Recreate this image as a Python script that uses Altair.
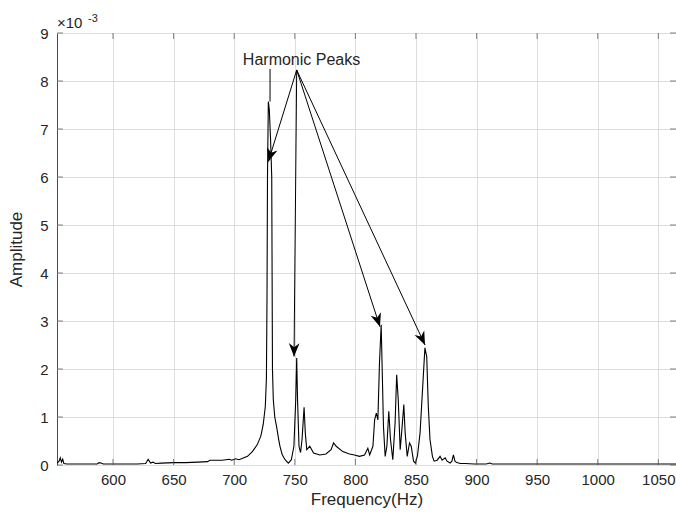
import math
import altair as alt
import pandas as pd

# Spectrum (frequency in Hz, amplitude in units of 1e-3)
freq = [554, 555.5, 556.5, 557.5, 558.5, 559.5, 562, 570, 580, 587, 588.5, 590, 592,
        600, 610, 620, 627, 629, 631, 633, 635, 640, 650, 660, 670, 678, 680, 690,
        696, 698, 701, 704, 707, 711, 715, 719, 722, 724, 725.7, 726.6, 727.1, 727.5,
        728.2, 729.0, 730.0, 731.0, 731.3, 731.6, 732.3, 733.5, 735, 736.6, 737.8,
        739.6, 742, 744.7, 747.2, 749.3, 750.8, 751.6, 752.3, 753.5, 754.8, 756,
        757.7, 758.7, 759.9, 762.4, 765.5, 770.6, 775.7, 780, 782, 784.2, 789.6,
        795.1, 799.3, 803.4, 807.6, 810.3, 811.8, 814.5, 815.9, 817.3, 818.6, 819.9,
        821.3, 822.1, 823.2, 824.6, 826, 827.6, 829, 830.9, 832.8, 834.1, 835.4, 837,
        838.6, 840, 841.1, 842.8, 844.7, 846.1, 848, 849.6, 851.3, 853.4, 855.6,
        857.4, 858.9, 860.2, 861.6, 863.6, 865, 867.5, 869.9, 871.6, 874.1, 875.7,
        878.2, 879.7, 880.9, 882.2, 883.7, 886.7, 890.8, 898, 908, 911, 913, 930,
        960, 1000, 1030, 1064.6]
amp = [0.04, 0.08, 0.15, 0.06, 0.12, 0.03, 0.02, 0.02, 0.02, 0.02, 0.05, 0.04, 0.02,
       0.02, 0.02, 0.02, 0.03, 0.12, 0.04, 0.06, 0.03, 0.04, 0.05, 0.05, 0.06, 0.07, 0.1, 0.1,
       0.12, 0.1, 0.13, 0.11, 0.14, 0.18, 0.28, 0.42, 0.6, 0.85, 1.22, 1.8, 3.5, 6.0,
       7.57, 7.4, 6.8, 6.0, 4.0, 2.0, 1.36, 1.0, 0.8, 0.55, 0.39,
       0.22, 0.11, 0.04, 0.11, 0.39, 1.36, 2.23, 1.36, 0.39, 0.26, 0.53,
       1.2, 0.67, 0.32, 0.39, 0.25, 0.21, 0.23, 0.32, 0.46, 0.39, 0.28,
       0.23, 0.21, 0.18, 0.21, 0.35, 0.21, 0.39, 0.94, 1.08, 0.94, 2.12,
       2.92, 2.05, 0.8, 0.18, 0.39, 1.12, 0.53, 0.11, 0.88, 1.88, 1.36, 0.32,
       0.8, 1.26, 0.67, 0.18, 0.46, 0.39, 0.08, 0.04, 0.2, 0.67, 1.64,
       2.44, 2.26, 1.22, 0.53, 0.18, 0.08, 0.1, 0.18, 0.1, 0.15, 0.08,
       0.04, 0.08, 0.21, 0.08, 0.05, 0.03, 0.03, 0.02, 0.02, 0.04, 0.02, 0.02,
       0.02, 0.02, 0.02, 0.02]

x_ticks = [600, 650, 700, 750, 800, 850, 900, 950, 1000, 1050]
y_ticks = [0, 1, 2, 3, 4, 5, 6, 7, 8, 9]

# Annotation: "Harmonic Peaks" with arrows
label_text = "Harmonic Peaks"
label_f, label_a = 755.6, 8.33
arrow_from_f, arrow_from_a = 751.6, 8.23
arrow_tip_f = [728.2, 749.4, 820.3, 857.5]
arrow_tip_a = [6.32, 2.26, 2.88, 2.5]
guide_f, guide_a_top, guide_a_bottom = 729.6, 8.25, 7.57

X_DOMAIN = [553.8, 1064.6]
Y_DOMAIN = [0, 9]
W, H = 619, 432

kx = W / (X_DOMAIN[1] - X_DOMAIN[0])
ky = H / (Y_DOMAIN[1] - Y_DOMAIN[0])
angles = []
for tf, ta in zip(arrow_tip_f, arrow_tip_a):
    dx = (tf - arrow_from_f) * kx
    dy = (arrow_from_a - ta) * ky
    angles.append(math.degrees(math.atan2(-dx, dy)) % 360)

spec = pd.DataFrame({"f": freq, "a": amp})
arrows = pd.DataFrame({
    "f": arrow_tip_f, "a": arrow_tip_a,
    "f0": [arrow_from_f] * len(arrow_tip_f), "a0": [arrow_from_a] * len(arrow_tip_f),
    "angle": angles,
})
guide = pd.DataFrame({"f": [guide_f], "a": [guide_a_top], "f1": [guide_f], "a1": [guide_a_bottom]})
label_df = pd.DataFrame({"f": [label_f], "a": [label_a], "t": [label_text]})
xt = pd.DataFrame({"f": x_ticks})
yt = pd.DataFrame({"a": y_ticks})

FONT = "Liberation Sans"
TXT = "#262626"
AX = "#4d4d4d"

xs = alt.Scale(domain=X_DOMAIN, nice=False, zero=False)
ys = alt.Scale(domain=Y_DOMAIN, nice=False, zero=False)

X_AXIS = alt.Axis(
    values=x_ticks, title="Frequency(Hz)", grid=True, tickSize=0, domain=False,
    labelFontSize=15, labelColor=TXT, labelFont=FONT, labelPadding=7,
    titleFontSize=17, titleFont=FONT, titleColor=TXT, titleFontWeight="normal",
    titlePadding=4, gridColor="#dedede", labelFlush=False, format="d")
Y_AXIS = alt.Axis(
    values=y_ticks, title="Amplitude", grid=True, tickSize=0, domain=False,
    labelFontSize=15, labelColor=TXT, labelFont=FONT, labelPadding=9,
    titleFontSize=17, titleFont=FONT, titleColor=TXT, titleFontWeight="normal",
    titlePadding=14, gridColor="#dedede", labelFlush=False, format="d")


def X(field):
    return alt.X(field, scale=xs, axis=X_AXIS, title="Frequency(Hz)")


def Y(field):
    return alt.Y(field, scale=ys, axis=Y_AXIS, title="Amplitude")


line = alt.Chart(spec).mark_line(color="black", strokeWidth=1.1, clip=True).encode(
    x=X("f:Q"), y=Y("a:Q"))

tick_b = alt.Chart(xt).mark_tick(orient="vertical", size=6, thickness=1, color=AX).encode(
    x=X("f:Q"), y=alt.value(H - 3))
tick_t = alt.Chart(xt).mark_tick(orient="vertical", size=6, thickness=1, color=AX).encode(
    x=X("f:Q"), y=alt.value(3))
tick_l = alt.Chart(yt).mark_tick(orient="horizontal", size=6, thickness=1, color=AX).encode(
    y=Y("a:Q"), x=alt.value(3))
tick_r = alt.Chart(yt).mark_tick(orient="horizontal", size=6, thickness=1, color=AX).encode(
    y=Y("a:Q"), x=alt.value(W - 3))

arrow_lines = alt.Chart(arrows).mark_rule(color="black", strokeWidth=1).encode(
    x=X("f0:Q"), y=Y("a0:Q"), x2="f:Q", y2="a:Q")
guide_line = alt.Chart(guide).mark_rule(color="black", strokeWidth=1).encode(
    x=X("f:Q"), y=Y("a:Q"), x2="f1:Q", y2="a1:Q")
heads = alt.Chart(arrows).mark_point(
    shape="M0,0 L-0.8,-2 L0,-1.4 L0.8,-2 Z", filled=True, color="black",
    opacity=1, size=180, strokeWidth=0).encode(
    x=X("f:Q"), y=Y("a:Q"), angle=alt.Angle("angle:Q", scale=None))

label = alt.Chart(label_df).mark_text(
    font=FONT, fontSize=16, color=TXT, align="center", baseline="alphabetic").encode(
    x=X("f:Q"), y=Y("a:Q"), text="t:N")

exp_base = alt.Chart(pd.DataFrame({"t": ["\u00d710"]})).mark_text(
    font=FONT, fontSize=15, color=TXT, align="left", baseline="alphabetic").encode(
    x=alt.value(0), y=alt.value(-5), text="t:N")
exp_sup = alt.Chart(pd.DataFrame({"t": ["-3"]})).mark_text(
    font=FONT, fontSize=11, color=TXT, align="left", baseline="alphabetic").encode(
    x=alt.value(31), y=alt.value(-11), text="t:N")

chart = alt.layer(
    line, tick_b, tick_t, tick_l, tick_r, guide_line, arrow_lines, heads, label,
    exp_base, exp_sup
).properties(
    width=W, height=H,
    autosize=alt.AutoSizeParams(type="none"),
    padding={"left": 57, "top": 33, "right": 0, "bottom": 57},
    background="white",
).configure_view(stroke=AX, strokeWidth=1)

chart.save("out.html", embed_options={"renderer": "svg", "actions": False})
